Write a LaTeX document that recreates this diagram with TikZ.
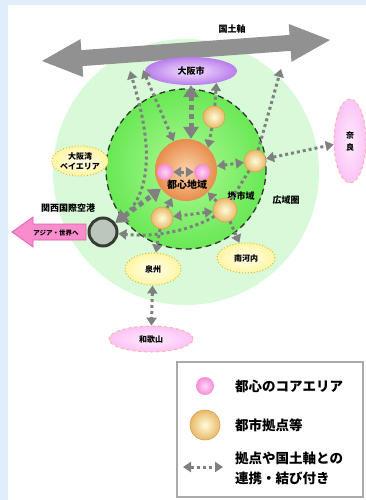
\documentclass[tikz,border=0pt]{standalone}
\usepackage{fontspec}
\setmainfont{Noto Sans CJK JP}
\usetikzlibrary{arrows.meta,shapes.geometric,positioning}

\definecolor{bgblue}{RGB}{224,238,252}
\definecolor{widegreen}{RGB}{216,250,216}
\definecolor{citygreenin}{RGB}{175,250,150}
\definecolor{citygreenout}{RGB}{105,232,85}
\definecolor{corein}{RGB}{250,212,170}
\definecolor{coreout}{RGB}{232,140,78}
\definecolor{hubin}{RGB}{255,252,220}
\definecolor{hubout}{RGB}{232,185,105}
\definecolor{hubedge}{RGB}{222,160,80}
\definecolor{pinkin}{RGB}{255,215,245}
\definecolor{pinkout}{RGB}{245,140,215}
\definecolor{purplein}{RGB}{245,228,255}
\definecolor{purpleout}{RGB}{185,125,235}
\definecolor{areain}{RGB}{255,255,235}
\definecolor{areaout}{RGB}{255,245,165}
\definecolor{areaedge}{RGB}{235,185,40}
\definecolor{prefin}{RGB}{255,235,255}
\definecolor{prefout}{RGB}{250,195,245}
\definecolor{prefedge}{RGB}{250,175,150}
\definecolor{axisgray}{RGB}{145,145,145}
\definecolor{linkgray}{RGB}{128,128,128}
\definecolor{asiapink}{RGB}{248,140,205}
\definecolor{asiaedge}{RGB}{220,100,170}
\definecolor{portgray}{RGB}{188,198,188}
\definecolor{portedge}{RGB}{55,60,55}
\definecolor{legendedge}{RGB}{170,170,170}

\tikzset{jtext/.style={font=\bfseries\fontsize{9}{11}\selectfont,inner sep=1pt,align=center},
    jsmall/.style={font=\bfseries\fontsize{8}{10}\selectfont,inner sep=0,align=center},
    jlegend/.style={font=\bfseries\fontsize{13.5}{20}\selectfont,inner sep=0,align=left},
    hubnode/.style={circle,draw=hubedge,line width=0.6pt,inner color=hubin,outer color=hubout,minimum size=22pt,inner sep=0},
    pinkdot/.style={circle,inner color=pinkin,outer color=pinkout,minimum size=16pt,inner sep=0},
    areaoval/.style={ellipse,draw=areaedge,line width=1pt,dotted,inner color=areain,outer color=areaout,inner sep=0},
    prefoval/.style={ellipse,draw=prefedge,line width=0.8pt,dashed,inner color=prefin,outer color=prefout,inner sep=0},
    dotlink/.style={draw=linkgray,line width=3pt,dash pattern=on 3pt off 3pt,>={Triangle[length=8pt,width=10pt]}},
    thicklink/.style={draw=linkgray,line width=5pt,dash pattern=on 5pt off 4pt,>={Triangle[length=12pt,width=15pt]}}
}

\begin{document}
\begin{tikzpicture}[x=1pt,y=-1pt]
\useasboundingbox (0,0) rectangle (366,500);

% page
\fill [bgblue] (0,0) rectangle (366,500);
\fill [white] (8,5) rectangle (366,500);

% wide area and city area
\fill [widegreen] (186,172) circle (133);
\shade [inner color=citygreenin,outer color=citygreenout] (186,169) circle (80);
\draw [black!80,line width=1.3pt,dash pattern=on 6pt off 4pt] (186,169) circle (80);

% national axis
\begin{scope}[shift={(186,50.5)},rotate=4.17]
    \fill [axisgray] (-144.4,0) -- (-104.4,-19) -- (-104.4,-8) -- (104.4,-8) -- (104.4,-19)
        -- (144.4,0) -- (104.4,19) -- (104.4,8) -- (-104.4,8) -- (-104.4,19) -- cycle;
\end{scope}
\node (kokudo) at (232,29) [jtext] {国土軸};
\coordinate (axL1) at (130,71);
\coordinate (axL2) at (143,70);
\coordinate (axR) at (281,69);

% areas
\node (osaka) at (191,71) [ellipse,inner color=purplein,outer color=purpleout,minimum width=92pt,minimum height=28pt,jtext] {大阪市};
\node (bay) at (80,161) [areaoval,minimum width=56pt,minimum height=30pt,jsmall] {大阪湾\\ベイエリア};
\node (senshu) at (153,269) [areaoval,minimum width=56pt,minimum height=32pt,jsmall] {泉州};
\node (minami) at (246,258) [areaoval,minimum width=58pt,minimum height=30pt,jsmall] {南河内};
\node (nara) at (350,141) [prefoval,minimum width=32pt,minimum height=84pt,jsmall,font=\bfseries\fontsize{8}{12}\selectfont] {奈\\良};
\node (wakayama) at (151,339) [prefoval,minimum width=84pt,minimum height=26pt,jsmall] {和歌山};

% core and hubs
\node (core) at (186,170) [circle,inner color=corein,outer color=coreout,minimum size=62pt,inner sep=0] {};
\node (coretext) at (187,185) [jtext,font=\bfseries\fontsize{10}{12}\selectfont] {都心地域};
\node (pinkL) at (165,172) [pinkdot] {};
\node (pinkR) at (202,172) [pinkdot] {};
\node (hubN) at (214,117) [hubnode] {};
\node (hubE) at (255,161) [hubnode] {};
\node (hubS) at (225,210) [hubnode,minimum size=24pt] {};
\node (hubW) at (162,218) [hubnode] {};
\node (sakaitext) at (241,196) [jtext] {堺市域};
\node (widetext) at (286,200) [jtext] {広域圏};

% airport
\node (airport) at (103,232) [circle,draw=portedge,line width=3pt,fill=portgray,minimum size=28pt,inner sep=0] {};
\node (airtext) at (68,208) [jtext] {関西国際空港};
\draw [asiaedge,fill=asiapink,line width=0.8pt] (12,232) -- (33,217) -- (33,224) -- (86,224)
    -- (86,240) -- (33,240) -- (33,247) -- cycle;
\node (asiatext) at (56,233) [jsmall,font=\bfseries\fontsize{6.5}{8}\selectfont] {アジア・世界へ};

% links
\draw [thicklink,<->] (osaka.south) -- (osaka.south |- core.north);
\draw [thicklink,<->] (airport) -- (core);
\draw [dotlink,<->] (airport) .. controls (165,185) and (140,105) .. (axL1);
\draw [dotlink,<->] (axL2) -- (core);
\draw [dotlink,->] (hubN) -- (osaka.-25);
\draw [dotlink,->] (hubN) -- (core.45);
\draw [dotlink,->] (hubE) -- (axR);
\draw [dotlink,<->] (hubE) -- (nara);
\draw [dotlink,<->] (core) -- (hubE);
\draw [dotlink,<->] (pinkL) -- (pinkR);
\draw [dotlink] (hubE) -- (hubS);
\draw [dotlink,->] (hubS) -- (core);
\draw [dotlink,->] (hubS) -- (minami);
\draw [dotlink,<->] (hubS) -- (hubW);
\draw [dotlink,->] (hubS) .. controls (195,228) and (160,238) .. (airport);
\draw [dotlink,->] (hubW) -- (senshu);
\draw [dotlink,->] (hubW) -- (core);
\draw [dotlink,<->] (senshu) -- (wakayama);

% legend
\draw [legendedge,line width=1.2pt] (177,362) rectangle (363,497);
\node (legpink) at (205,386) [pinkdot,minimum size=18pt] {};
\node (leghub) at (205,425) [hubnode,minimum size=30pt] {};
\coordinate (legA) at (183,467);
\coordinate (legB) at (223,467);
\draw [dotlink,<->] (legA) -- (legB);
\node (legpinktext) at (235,386) [anchor=west,jlegend] {都心のコアエリア};
\node (leghubtext) at (235,425) [anchor=west,jlegend] {都市拠点等};
\node (leglinktext) at (235,468) [anchor=west,jlegend] {拠点や国土軸との\\連携・結び付き};

\end{tikzpicture}
\end{document}
